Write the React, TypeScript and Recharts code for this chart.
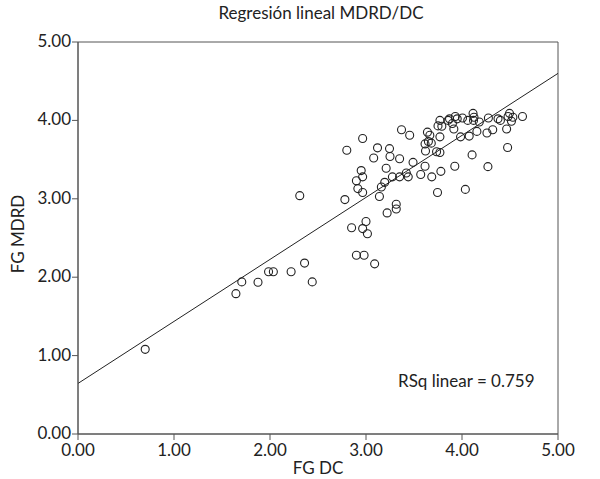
import React from "react";
import {
  ScatterChart,
  Scatter,
  XAxis,
  YAxis,
  ReferenceLine,
  ReferenceArea,
  Label,
} from "recharts";

// FG DC (x) vs FG MDRD (y)
const fgDC = [
  0.7, 1.645, 1.706, 1.875, 1.985, 2.035, 2.22, 2.36, 2.44, 2.31, 2.78, 2.8,
  2.965, 2.85, 2.9, 2.98, 2.965, 3.0, 3.015, 3.09, 2.9, 2.95, 2.965, 2.915,
  2.965, 3.08, 3.12, 3.14, 3.16, 3.195, 3.21, 3.22, 3.245, 3.25, 3.275, 3.315,
  3.315, 3.35, 3.35, 3.37, 3.42, 3.44, 3.455, 3.49, 3.57, 3.615, 3.615, 3.62,
  3.64, 3.65, 3.665, 3.68, 3.685, 3.745, 3.735, 3.77, 3.77, 3.78, 3.75, 3.77,
  3.79, 3.855, 3.87, 3.9, 3.915, 3.93, 3.95, 3.925, 3.985, 4.005, 4.035, 4.06,
  4.075, 4.105, 4.115, 4.125, 4.12, 4.155, 4.18, 4.26, 4.27, 4.275, 4.32,
  4.375, 4.4, 4.465, 4.475, 4.48, 4.495, 4.515, 4.53, 4.63,
];
const fgMDRD = [
  1.08, 1.79, 1.94, 1.935, 2.07, 2.07, 2.07, 2.18, 1.94, 3.04, 2.99, 3.62,
  3.77, 2.63, 2.28, 2.28, 2.62, 2.71, 2.555, 2.17, 3.23, 3.36, 3.28, 3.13,
  3.08, 3.52, 3.65, 3.03, 3.15, 3.21, 3.39, 2.82, 3.64, 3.54, 3.28, 2.93, 2.87,
  3.51, 3.28, 3.88, 3.33, 3.28, 3.81, 3.465, 3.31, 3.7, 3.415, 3.61, 3.85,
  3.73, 3.81, 3.71, 3.28, 3.08, 3.6, 3.59, 3.79, 3.35, 3.93, 4.0, 3.925, 4.0,
  4.02, 3.96, 3.89, 4.05, 4.02, 3.415, 3.79, 4.03, 3.12, 4.0, 3.8, 3.56, 4.09,
  4.04, 4.0, 3.86, 3.98, 3.84, 3.41, 4.03, 3.88, 4.02, 4.0, 3.89, 3.655, 4.05,
  4.09, 3.99, 4.04, 4.05,
];

const ticks = [0, 1, 2, 3, 4, 5];
const fitIntercept = 0.645;
const fitSlope = 0.791;
const rSquared = "0.759";

const points = fgDC.map((x, i) => ({ x, y: fgMDRD[i] }));

const font = "Lato, 'Open Sans', sans-serif";
const axisColor = "#555";

const OpenCircle = (props: any) => (
  <circle cx={props.cx} cy={props.cy} r={4} fill="none" stroke="#222" strokeWidth={1.1} />
);

export default function App() {
  return (
    <div style={{ position: "fixed", left: 0, top: 0, width: 600, height: 479, background: "#fff", fontFamily: font }}>
      <div style={{ position: "absolute", top: 2, left: 0, width: 642, textAlign: "center", fontSize: 17, color: "#222" }}>
        Regresión lineal MDRD/DC
      </div>
      <ScatterChart width={600} height={479} margin={{ top: 42, right: 42, bottom: 15, left: 22 }}>
        <XAxis
          type="number"
          dataKey="x"
          domain={[0, 5]}
          ticks={ticks}
          tickFormatter={(v: number) => v.toFixed(2)}
          stroke={axisColor}
          tick={{ fill: "#222", fontSize: 17, fontFamily: font, dy: 3 }}
          tickSize={6}
          tickMargin={1}
          height={30}
          allowDataOverflow
        >
          <Label value="FG DC" position="insideBottom" offset={-10} style={{ fill: "#222", fontSize: 17, fontFamily: font }} />
        </XAxis>
        <YAxis
          type="number"
          dataKey="y"
          domain={[0, 5]}
          ticks={ticks}
          tickFormatter={(v: number) => v.toFixed(2)}
          stroke={axisColor}
          tick={{ fill: "#222", fontSize: 17, fontFamily: font, dy: -1 }}
          tickSize={6}
          tickMargin={1}
          width={56}
          allowDataOverflow
        >
          <Label value="FG MDRD" angle={-90} position="insideLeft" offset={-4} dy={-4} style={{ fill: "#222", fontSize: 17, fontFamily: font, textAnchor: "middle" }} />
        </YAxis>
        <ReferenceArea x1={0} x2={5} y1={0} y2={5} fill="none" stroke={axisColor} strokeWidth={1} />
        <ReferenceLine
          segment={[
            { x: 0, y: fitIntercept },
            { x: 5, y: fitIntercept + fitSlope * 5 },
          ]}
          stroke="#222"
          strokeWidth={1}
        />
        <Scatter data={points} shape={OpenCircle} isAnimationActive={false} />
      </ScatterChart>
      <div style={{ position: "absolute", top: 370, left: 398, fontSize: 17, color: "#222" }}>
        RSq linear = {rSquared}
      </div>
    </div>
  );
}
